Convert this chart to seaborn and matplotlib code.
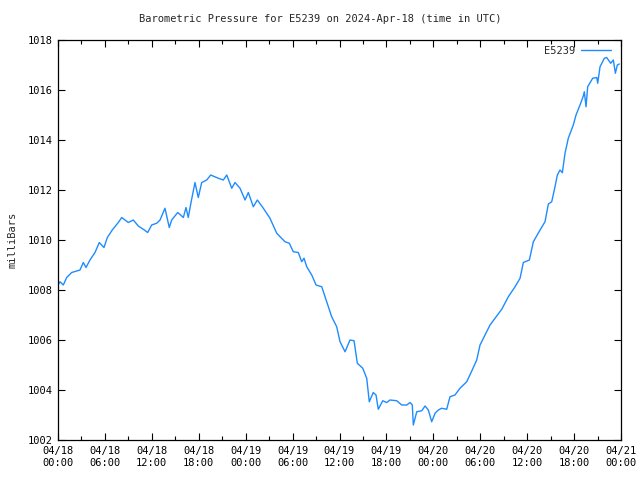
import matplotlib
matplotlib.use("Agg")
import matplotlib.pyplot as plt
from matplotlib.ticker import MultipleLocator
import seaborn as sns
import pandas as pd

# hours since 2024-04-18 00:00 UTC
hours = [0.0, 0.26, 0.68, 1.11, 1.75, 2.81, 3.24, 3.58, 4.09, 4.73, 5.28, 5.88, 6.31, 6.94,
         7.71, 8.15, 8.99, 9.63, 10.27, 11.04, 11.47, 11.98, 12.62, 13.05, 13.68, 14.23,
         14.54, 15.31, 16.03, 16.37, 16.66, 17.01, 17.52, 17.94, 18.38, 19.02, 19.53, 20.50,
         21.14, 21.58, 22.22, 22.64, 23.28, 23.92, 24.34, 24.98, 25.49, 26.26, 27.11, 27.97,
         29.03, 29.58, 30.09, 30.73, 31.17, 31.46, 31.81, 32.45, 33.00, 33.73, 34.36, 35.00,
         35.64, 36.07, 36.71, 37.34, 37.86, 38.28, 38.97, 39.48, 39.81, 40.32, 40.67, 40.96,
         41.53, 42.04, 42.46, 43.32, 43.96, 44.60, 45.02, 45.31, 45.44, 45.88, 46.52, 46.94,
         47.36, 47.79, 48.22, 48.64, 49.07, 49.71, 50.13, 50.77, 51.41, 52.27, 52.78, 53.55,
         53.97, 55.25, 56.75, 57.59, 58.45, 59.09, 59.51, 60.28, 60.79, 61.65, 62.28, 62.71,
         63.14, 63.56, 63.86, 64.20, 64.50, 64.84, 65.26, 65.90, 66.25, 66.76, 67.18, 67.31,
         67.53, 67.74, 68.38, 68.90, 69.02, 69.32, 69.87, 70.17, 70.68, 71.02, 71.28, 71.53,
         71.79]
pressure = [1008.2, 1008.33, 1008.2, 1008.5, 1008.7, 1008.8, 1009.1, 1008.9, 1009.2, 1009.5,
            1009.9, 1009.7, 1010.1, 1010.4, 1010.7, 1010.9, 1010.7, 1010.8, 1010.56, 1010.4,
            1010.3, 1010.6, 1010.67, 1010.8, 1011.27, 1010.5, 1010.8, 1011.1, 1010.9, 1011.3,
            1010.9, 1011.5, 1012.3, 1011.7, 1012.3, 1012.4, 1012.6, 1012.47, 1012.4, 1012.6,
            1012.07, 1012.3, 1012.07, 1011.6, 1011.9, 1011.33, 1011.6, 1011.27, 1010.87,
            1010.27, 1009.93, 1009.87, 1009.53, 1009.5, 1009.13, 1009.27, 1008.93, 1008.6,
            1008.2, 1008.13, 1007.53, 1006.93, 1006.53, 1005.93, 1005.53, 1006.0, 1005.97,
            1005.07, 1004.87, 1004.47, 1003.53, 1003.9, 1003.8, 1003.23, 1003.57, 1003.5,
            1003.6, 1003.57, 1003.4, 1003.4, 1003.5, 1003.4, 1002.6, 1003.13, 1003.17, 1003.36,
            1003.2, 1002.73, 1003.07, 1003.2, 1003.27, 1003.23, 1003.73, 1003.8, 1004.07,
            1004.33, 1004.67, 1005.2, 1005.8, 1006.6, 1007.23, 1007.73, 1008.13, 1008.47,
            1009.1, 1009.2, 1009.93, 1010.4, 1010.73, 1011.44, 1011.53, 1012.13, 1012.6,
            1012.8, 1012.69, 1013.47, 1014.07, 1014.6, 1015.0, 1015.4, 1015.76, 1015.93,
            1015.33, 1016.13, 1016.47, 1016.5, 1016.27, 1016.93, 1017.27, 1017.3, 1017.07,
            1017.2, 1016.67, 1017.0, 1017.04]

tick_hours = [0, 6, 12, 18, 24, 30, 36, 42, 48, 54, 60, 66, 72]
tick_labels = ["04/18\n00:00", "04/18\n06:00", "04/18\n12:00", "04/18\n18:00",
               "04/19\n00:00", "04/19\n06:00", "04/19\n12:00", "04/19\n18:00",
               "04/20\n00:00", "04/20\n06:00", "04/20\n12:00", "04/20\n18:00",
               "04/21\n00:00"]
series_name = "E5239"
title = "Barometric Pressure for E5239 on 2024-Apr-18 (time in UTC)"

df = pd.DataFrame({"hours": hours, "pressure": pressure})

sns.set_style("ticks")
plt.rcParams["font.family"] = ["DejaVu Sans Mono"]
plt.rcParams["font.size"] = 7.5

fig = plt.figure(figsize=(6.4, 4.8), dpi=100)
ax = fig.add_axes([58 / 640, 1 - 440 / 480, (621 - 58) / 640, 400 / 480])

sns.lineplot(data=df, x="hours", y="pressure", ax=ax, color="#1E8CFF",
             linewidth=1.0, label=series_name)

ax.set_xlim(0, 72)
ax.set_ylim(1002, 1018)
ax.set_xticks(tick_hours)
ax.set_xticklabels(tick_labels, linespacing=1.25)
ax.xaxis.set_minor_locator(MultipleLocator(3))
ax.yaxis.set_major_locator(MultipleLocator(2))
ax.yaxis.set_major_formatter(matplotlib.ticker.FormatStrFormatter("%d"))

ax.tick_params(which="both", direction="in", top=True, right=True, colors="black",
               labelsize=7.5, width=0.8)
ax.tick_params(which="major", length=5, pad=4)
ax.tick_params(which="minor", length=3)
for s in ax.spines.values():
    s.set_visible(True)
    s.set_linewidth(0.9)
    s.set_color("black")

ax.set_xlabel("")
ax.set_ylabel("milliBars", fontsize=7.5)
ax.yaxis.set_label_coords(-0.072, 0.5)
fig.text(0.5, 1 - 19 / 480, title, ha="center", va="center", fontsize=7.5)

leg = ax.legend(loc="upper right", bbox_to_anchor=(0.9899, 0.9958), frameon=False,
                markerfirst=False, handlelength=2.9, fontsize=7.5, borderaxespad=0.0,
                handletextpad=0.5)

fig.savefig("out.png", dpi=100)
